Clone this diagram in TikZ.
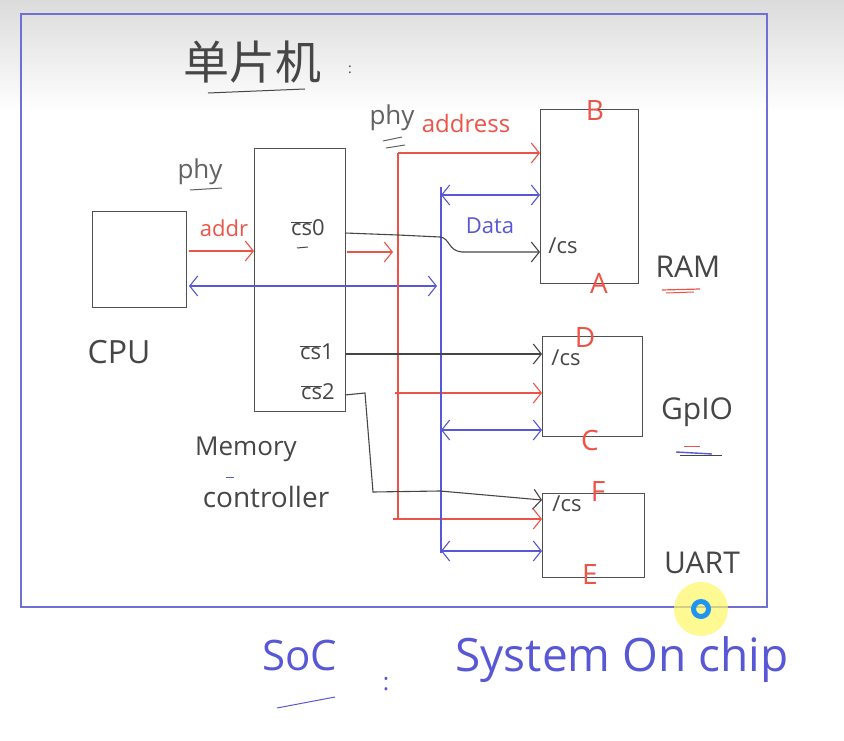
\documentclass[tikz,border=0pt]{standalone}
\usepackage{fontspec}
\setmainfont{Open Sans}
\newfontfamily\cjk{Noto Sans CJK SC}
\usetikzlibrary{arrows.meta}

\definecolor{penred}{RGB}{236,84,72}
\definecolor{penblue}{RGB}{88,88,214}
\definecolor{framebl}{RGB}{112,112,212}
\definecolor{boxgray}{RGB}{80,80,80}
\definecolor{inkgray}{RGB}{70,70,70}
\definecolor{ringblue}{RGB}{30,150,240}

\newlength{\du}
\setlength{\du}{1pt}

\tikzset{
  box/.style={draw=boxgray, line width=1.1\du, inner sep=0pt, anchor=north west},
  sz/.style={font=\fontsize{#1}{#1}\selectfont, inner sep=0pt},
  tip/.style={-{Straight Barb[length=8pt,width=20pt]}},
  dtip/.style={{Straight Barb[length=8pt,width=20pt]}-{Straight Barb[length=8pt,width=20pt]}},
  addrbus/.style={penred, line width=1.1\du},
  databus/.style={penblue, line width=1.1\du},
  csline/.style={inkgray, line width=1.1\du}
}

\begin{document}
\begin{tikzpicture}
\pgftransformyscale{-1.000000}
\useasboundingbox (0,0) rectangle (844\du,741\du);
\fill[white] (0,0) rectangle (844\du,741\du);
\shade[top color=black!14, bottom color=white] (0,0) rectangle (844\du,112\du);
% chip frame
\draw[framebl, line width=1.3\du] (21\du,14\du) rectangle (767\du,607\du);

% title
\node[inkgray, inner sep=0pt, font=\cjk\fontsize{46}{46}\selectfont] (title) at (252\du,62\du) {单片机};
\draw[inkgray, line width=1\du] (208\du,93\du) -- (305\du,89\du);
\node[sz=14, inkgray] (tcolon) at (350\du,70\du) {:};

% blocks
\node[box, minimum width=94\du, minimum height=96\du] (cpu) at (92\du,211\du) {};
\node[box, minimum width=91\du, minimum height=263\du] (mc) at (254\du,148\du) {};
\node[box, minimum width=98\du, minimum height=174\du] (ram) at (540\du,109\du) {};
\node[box, minimum width=100\du, minimum height=100\du] (gpio) at (542\du,336\du) {};
\node[box, minimum width=102\du, minimum height=84\du] (uart) at (542\du,493\du) {};

% block names
\node[sz=32, inkgray] (cpulbl) at (119\du,352\du) {CPU};
\node[sz=26, inkgray] (memlbl) at (246\du,449\du) {Memory};
\draw[penblue, line width=1\du] (226\du,477\du) -- (234\du,477\du);
\node[sz=28, inkgray] (ctllbl) at (266\du,497\du) {controller};
\node[sz=30, inkgray] (ramlbl) at (688\du,267\du) {RAM};
\draw[penred, line width=1.2\du] (662\du,290\du) -- (700\du,289\du);
\draw[penred, line width=1\du] (666\du,293\du) -- (694\du,292\du);
\node[sz=30, inkgray] (gpiolbl) at (697\du,412\du) {GpIO};
\draw[penred, line width=1\du] (684\du,446\du) -- (700\du,446\du);
\draw[penblue, line width=1.4\du] (676\du,452\du) -- (712\du,454\du);
\draw[inkgray, line width=1\du] (680\du,455\du) -- (722\du,455\du);
\node[sz=30, inkgray] (uartlbl) at (702\du,563\du) {UART};

% chip select pins
\node[sz=22, inkgray] (cs0) at (308\du,228\du) {$\overline{\hbox{cs}}$0};
\draw[inkgray, line width=1\du] (297\du,248\du) -- (308\du,247\du);
\node[sz=22, inkgray] (cs1) at (317\du,352\du) {$\overline{\hbox{cs}}$1};
\node[sz=22, inkgray] (cs2) at (318\du,392\du) {$\overline{\hbox{cs}}$2};
\node[sz=22, inkgray] (ramcs) at (563\du,246\du) {/cs};
\node[sz=22, inkgray] (gpiocs) at (566\du,358\du) {/cs};
\node[sz=22, inkgray] (uartcs) at (567\du,504\du) {/cs};

% address range letters
\node[sz=28, penred] (ramB) at (595\du,111\du) {B};
\node[sz=28, penred] (ramA) at (599\du,283\du) {A};
\node[sz=28, penred] (gpioD) at (585\du,338\du) {D};
\node[sz=28, penred] (gpioC) at (590\du,440\du) {C};
\node[sz=28, penred] (uartF) at (598\du,492\du) {F};
\node[sz=28, penred] (uartE) at (590\du,575\du) {E};

% bus labels
\node[sz=26, inkgray!85] (phyl) at (200\du,172\du) {phy};
\draw[inkgray!85, line width=1\du] (190\du,190\du) -- (222\du,188\du);
\node[sz=22, penred] (addrlbl) at (224\du,228\du) {addr};
\node[sz=26, inkgray!85] (phyr) at (392\du,118\du) {phy};
\draw[inkgray!85, line width=1\du] (383\du,141\du) -- (402\du,137\du);
\draw[inkgray!85, line width=1\du] (386\du,148\du) -- (405\du,145\du);
\node[sz=24, penred] (addrslbl) at (466\du,124\du) {address};
\node[sz=22, penblue] (datalbl) at (490\du,226\du) {Data};

% bus nodes
\coordinate (rtop) at (398\du,153\du);
\coordinate (rbot) at (398\du,520\du);
\coordinate (btop) at (441\du,187\du);
\coordinate (bbot) at (441\du,553\du);
\coordinate (ra1) at (395\du,393\du);
\coordinate (ra2) at (393\du,519\du);
\coordinate (bd0) at (441\du,195\du);
\coordinate (bd1) at (441\du,430\du);
\coordinate (bd2) at (441\du,551\du);
\coordinate (cpuaddr) at (189\du,251\du);
\coordinate (cpuend) at (189\du,286\du);
\coordinate (mcbus) at (437\du,286\du);
\coordinate (mcout) at (347\du,252\du);
\coordinate (mcin) at (393\du,252\du);
\coordinate (p0) at (345\du,233\du);
\coordinate (p1) at (345\du,354\du);
\coordinate (p2) at (345\du,395\du);
\coordinate (q0) at (462\du,252\du);
\coordinate (q2) at (440\du,500\du);

% cpu to memory controller
\draw[addrbus, tip] (cpuaddr) -- (cpuaddr -| mc.west);
\draw[databus, dtip] (cpuend) -- (mcbus);
\draw[addrbus, tip] (mcout) -- (mcin);

% address bus
\draw[addrbus] (rtop) -- (rbot);
\draw[addrbus, tip] (rtop) -- (rtop -| ram.west);
\draw[addrbus, tip] (ra1) -- (ra1 -| gpio.west);
\draw[addrbus, tip] (ra2) -- (ra2 -| uart.west);

% data bus
\draw[databus] (btop) -- (bbot);
\draw[databus, dtip] (bd0) -- (bd0 -| ram.west);
\draw[databus, dtip] (bd1) -- (bd1 -| gpio.west);
\draw[databus, dtip] (bd2) -- (bd2 -| uart.west);

% chip selects
\draw[csline, tip] (p0) -- (398\du,235\du) -- (440\du,237\du)
  .. controls (450\du,238\du) and (448\du,251\du) .. (q0) -- (q0 -| ram.west);
\draw[csline, tip] (p1) -- (p1 -| gpio.west);
\draw[csline, tip] (p2) -- (365\du,393\du) -- (373\du,492\du) -- (440\du,491\du) -- (q2 -| uart.west);

% system on chip
\node[sz=42, penblue] (soc) at (300\du,655\du) {SoC};
\draw[penblue, line width=1\du] (277\du,708\du) -- (335\du,697\du);
\node[sz=24, penblue] (scolon) at (386\du,684\du) {:};
\node[sz=46, penblue] (soclong) at (622\du,660\du) {System On chip};

% pointer
\fill[yellow!60, opacity=0.7] (701\du,609\du) circle (27\du);
\draw[ringblue, line width=5\du] (701\du,609\du) circle (7.5\du);
\end{tikzpicture}
\end{document}
